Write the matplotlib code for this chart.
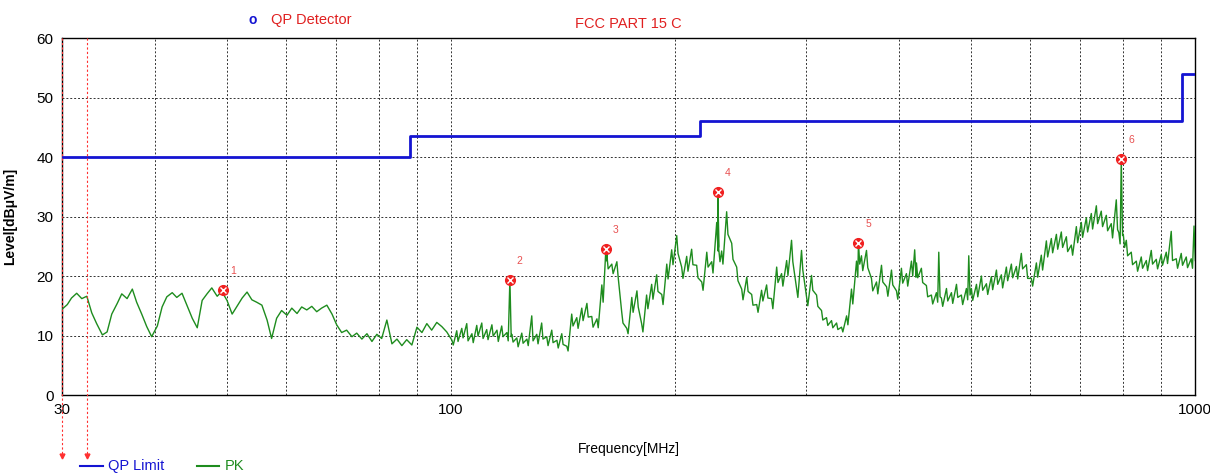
import numpy as np
import matplotlib.pyplot as plt
import matplotlib.transforms as mtransforms

plt.rcParams['font.family'] = ['Liberation Sans', 'DejaVu Sans']

# FCC part 15 C QP limit (step edges)
limit_freq = [30, 88, 88, 216, 216, 960, 960, 1000]
limit_level = [40, 40, 43.5, 43.5, 46, 46, 54, 54]

# peak sweep (bin maximum)
pk_freq = [
    30.0, 30.5, 30.9, 31.4, 31.9, 32.4, 32.9, 33.4, 34.0, 34.5, 35.0, 35.6, 36.1, 36.7,
    37.3, 37.8, 38.4, 39.0, 39.6, 40.3, 40.9, 41.5, 42.2, 42.8, 43.5, 44.2, 44.9, 45.6,
    46.3, 47.0, 47.7, 48.5, 49.2, 50.0, 50.8, 51.5, 52.4, 53.2, 54.0, 54.8, 55.7, 56.6,
    57.4, 58.3, 59.2, 60.2, 61.1, 62.1, 63.0, 64.0, 65.0, 66.0, 67.0, 68.1, 69.2, 70.2,
    71.3, 72.4, 73.6, 74.7, 75.9, 77.1, 78.3, 79.5, 80.7, 82.0, 83.3, 84.6, 85.9, 87.2,
    88.6, 90.0, 91.4, 92.8, 94.2, 95.7, 97.2, 98.7,
    100.3, 101.8, 103.4, 105.0, 106.7, 108.3, 110.0, 111.7, 113.5, 115.3, 117.0, 118.9,
    120.0, 120.7, 122.6, 124.5, 126.5, 128.4, 130.4, 132.4, 134.5, 136.6, 138.8, 140.9,
    143.1, 145.3, 147.6, 149.9, 152.3, 154.6, 157.1, 159.5, 161.5, 162.0, 164.5, 167.1,
    169.6, 172.3, 175.0, 177.8, 180.4, 183.2, 186.1, 189.0, 192.0, 195.0, 198.0, 201.1,
    204.2, 207.4, 210.6, 213.9, 217.3, 220.7, 224.1, 227.6, 228.3, 229.0, 231.1, 234.7,
    238.4, 242.1, 245.9, 249.8, 253.6, 257.6, 261.5, 265.6, 269.7, 274.0, 278.2, 282.6,
    286.9, 291.4, 295.9, 300.5, 305.2, 310.0, 314.8, 319.7, 324.7, 329.8, 334.9, 340.2,
    345.4, 350.8, 352.9, 356.2, 361.8, 367.4, 373.2, 379.0, 385.0, 390.9, 397.0, 403.1,
    409.4, 415.8, 420.0, 422.3, 428.8, 435.5, 442.3, 449.2, 452.5, 456.2, 463.4, 470.6,
    478.0, 485.3, 492.9, 496.5, 500.6, 508.5, 516.3, 524.4, 532.5, 540.9, 549.2, 557.8,
    566.5, 575.4, 584.2, 593.4, 602.6, 612.1, 621.5, 631.3, 641.1, 651.2, 661.2, 671.6,
    682.0, 692.7, 703.4, 714.4, 725.5, 736.9, 748.2, 760.0, 771.7, 783.8, 790.0, 796.0,
    801.0, 808.5, 821.0, 833.9, 846.8, 860.1, 873.4, 887.1, 900.8, 914.9, 929.1, 943.7,
    958.3, 973.3, 988.4, 997.0,
]
pk_level = [
    14.4, 15.2, 16.3, 17.1, 16.2, 16.6, 13.8, 12.0, 10.1, 10.6, 13.6, 15.4, 17.0, 16.2,
    17.8, 15.6, 13.6, 11.5, 9.8, 11.6, 14.8, 16.5, 17.2, 16.4, 17.1, 15.0, 12.9, 11.3,
    15.9, 17.0, 18.0, 16.6, 17.4, 15.9, 13.6, 14.8, 16.3, 17.3, 16.0, 15.6, 15.1, 12.6,
    9.5, 12.9, 14.2, 13.4, 14.6, 13.7, 14.8, 14.3, 14.9, 14.0, 14.6, 15.1, 13.6, 11.8,
    10.5, 10.9, 9.8, 10.4, 9.4, 10.3, 9.0, 10.2, 9.5, 12.6, 8.6, 9.4, 8.3, 9.3,
    8.4, 11.4, 10.5, 12.0, 10.9, 12.2, 11.5, 10.6,
    9.2, 10.8, 11.2, 12.0, 10.3, 11.7, 12.1, 11.0, 11.8, 10.9, 11.6, 10.5,
    19.4, 10.2, 9.6, 10.4, 9.4, 13.3, 10.2, 12.1, 9.8, 10.9, 9.2, 10.3,
    8.2, 13.6, 13.0, 14.6, 15.4, 13.2, 12.8, 18.5, 24.5, 23.6, 22.0, 22.4,
    14.0, 11.2, 16.4, 17.5, 12.0, 16.8, 18.6, 20.2, 16.9, 22.0, 24.4, 26.8,
    21.5, 23.3, 24.5, 21.8, 19.0, 24.0, 22.4, 29.0, 34.1, 24.6, 24.2, 30.8,
    25.5, 21.5, 17.8, 19.8, 16.9, 15.2, 17.6, 18.5, 16.2, 21.5, 20.4, 22.6,
    26.0, 18.0, 24.3, 16.5, 20.1, 16.8, 14.2, 13.0, 12.5, 12.1, 11.4, 13.3,
    17.8, 22.5, 25.6, 23.4, 24.3, 19.6, 19.0, 21.8, 18.2, 21.0, 17.5, 21.3,
    20.4, 22.5, 24.4, 22.2, 21.3, 18.4, 16.8, 17.2, 24.0, 16.3, 17.9, 17.2,
    18.6, 16.8, 17.9, 23.4, 17.9, 18.6, 20.0, 18.7, 19.9, 21.0, 20.2, 21.5,
    22.0, 21.6, 23.8, 21.9, 19.6, 22.2, 23.5, 25.9, 26.3, 27.0, 27.4, 26.6,
    25.2, 28.3, 29.0, 29.8, 30.5, 31.8, 30.9, 30.2, 28.8, 32.8, 27.3, 39.7,
    27.0, 26.0, 24.0, 22.5, 23.2, 22.6, 24.3, 22.8, 23.6, 24.0, 27.5, 22.9,
    23.8, 23.2, 22.9, 28.4,
]
# bin minimum for the sweep above 100 MHz (the dense band)
pk_floor = [
    8.4, 9.0, 9.6, 9.1, 8.8, 9.9, 9.5, 9.3, 9.9, 9.0, 9.8, 9.1,
    9.8, 8.9, 8.1, 8.7, 8.3, 9.1, 8.6, 9.4, 8.3, 8.8, 7.9, 8.5,
    7.4, 11.6, 11.2, 12.5, 13.1, 11.4, 11.3, 15.6, 22.5, 21.2, 20.4, 19.8,
    12.1, 10.3, 13.9, 14.8, 10.6, 14.5, 16.1, 17.4, 15.2, 19.5, 21.9, 23.8,
    19.6, 20.8, 21.9, 19.7, 17.6, 21.5, 20.5, 24.2, 25.0, 22.4, 22.0, 27.0,
    22.8, 19.2, 16.0, 17.4, 15.1, 13.9, 15.8, 16.3, 14.5, 18.9, 18.3, 20.1,
    22.4, 16.4, 21.0, 15.0, 17.6, 14.9, 12.6, 11.7, 11.3, 11.0, 10.6, 11.8,
    15.3, 19.8, 22.0, 20.9, 21.4, 17.5, 17.0, 19.0, 16.6, 18.5, 16.1, 18.8,
    18.3, 20.0, 19.8, 19.7, 18.9, 16.5, 15.3, 15.6, 16.5, 14.9, 15.8, 15.4,
    16.4, 15.2, 16.0, 16.8, 15.9, 16.5, 17.6, 16.9, 17.7, 18.6, 18.0, 19.2,
    19.7, 19.5, 21.2, 19.6, 18.3, 19.8, 21.0, 23.2, 23.9, 24.5, 24.8, 24.1,
    23.5, 25.6, 26.5, 27.4, 27.9, 28.8, 28.3, 27.6, 26.4, 27.8, 25.4, 26.8,
    24.8, 23.4, 21.9, 20.8, 21.3, 20.9, 22.0, 21.2, 21.8, 22.1, 22.6, 21.3,
    21.8, 21.4, 21.3, 22.6,
]

# marked peaks
mark_freq = [49.4, 120.0, 161.5, 228.3, 352.9, 796.0]
mark_level = [17.6, 19.4, 24.5, 34.1, 25.6, 39.7]
mark_label = ['1', '2', '3', '4', '5', '6']

# red arrow markers at the start of the scan
arrow_freq = [30.0, 32.4]

# interleave bin max / min above 100 MHz so the trace draws as a band
n0 = len(pk_freq) - len(pk_floor)
trace_f = list(pk_freq[:n0])
trace_l = list(pk_level[:n0])
for f, hi, lo in zip(pk_freq[n0:], pk_level[n0:], pk_floor):
    trace_f += [f, f * 1.004]
    trace_l += [hi, lo]

fig = plt.figure(figsize=(12.1, 4.75), dpi=100)
ax = fig.add_axes([0.0512, 0.1684, 0.9364, 0.7516])

ax.plot(limit_freq, limit_level, color='#1414d2', lw=2, zorder=4)
ax.plot(trace_f, trace_l, color='#1e8c1e', lw=1.0, zorder=3)

ax.plot(mark_freq, mark_level, 'o', ms=7, color='#f02020', zorder=5)
ax.plot(mark_freq, mark_level, 'x', ms=4, mew=1, color='white', zorder=6)
for f, lv, t in zip(mark_freq, mark_level, mark_label):
    ax.annotate(t, (f, lv), xytext=(5, 10), textcoords='offset points',
                color='#e85050', fontsize=7.5, ha='left', va='bottom')

ax.set_xscale('log')
ax.set_xlim(30, 1000)
ax.set_ylim(0, 60)
ax.set_yticks(range(0, 61, 10))
ax.set_xticks([30, 100, 1000])
ax.set_xticklabels(['30', '100', '1000'])
ax.set_xticks([40, 50, 60, 70, 80, 90, 200, 300, 400, 500, 600, 700, 800, 900], minor=True)
ax.xaxis.set_minor_formatter(plt.NullFormatter())
ax.tick_params(axis='both', which='both', length=0, labelsize=11, pad=6)
ax.grid(True, which='both', color='#333333', ls=(0, (2, 2)), lw=0.7)
for s in ax.spines.values():
    s.set_linewidth(1)

ax.set_ylabel('Level[dBμV/m]', fontsize=10, fontweight='bold', labelpad=14)
ax.set_xlabel('Frequency[MHz]', fontsize=10, labelpad=18)
fig.text(0.519, 0.94, 'FCC PART 15 C', color='#e02020', fontsize=10.5, ha='center')

# red dashed arrows
trans = mtransforms.blended_transform_factory(ax.transData, ax.transAxes)
for f in arrow_freq:
    ax.plot([f, f], [1, -0.17], color='#ff3030', ls=(0, (2, 2)), lw=0.8,
            transform=trans, clip_on=False, zorder=7)
    ax.plot([f], [-0.172], marker='v', ms=3.5, color='#ff3030',
            transform=trans, clip_on=False, zorder=7)

# top detector legend
fig.text(0.209, 0.958, 'o', color='#1414d2', fontsize=10, ha='center', va='center', fontweight='bold')
fig.text(0.224, 0.958, 'QP Detector', color='#e02020', fontsize=10.5, va='center')

# bottom legend
fig.lines.append(plt.Line2D([0.066, 0.085], [0.019, 0.019], color='#1414d2', lw=1.5, transform=fig.transFigure))
fig.text(0.089, 0.019, 'QP Limit', color='#1414d2', fontsize=10.5, va='center')
fig.lines.append(plt.Line2D([0.163, 0.181], [0.019, 0.019], color='#1e8c1e', lw=1.5, transform=fig.transFigure))
fig.text(0.186, 0.019, 'PK', color='#1e8c1e', fontsize=10.5, va='center')

fig.savefig('out.png', dpi=100, facecolor='white')
